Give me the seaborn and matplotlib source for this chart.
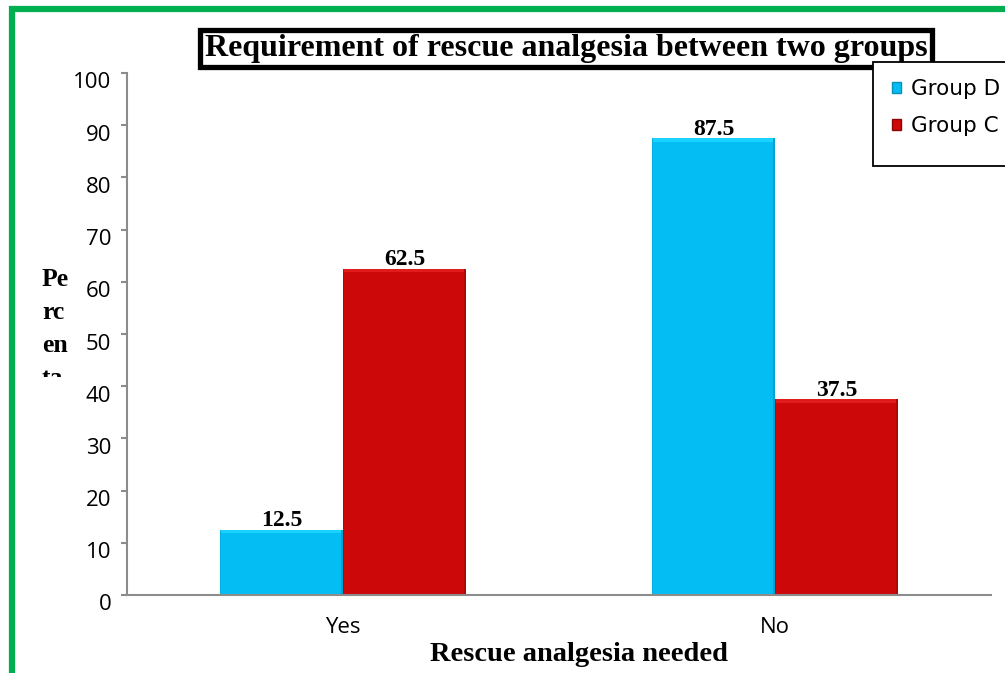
import matplotlib
matplotlib.use("Agg")
import matplotlib.pyplot as plt
import matplotlib.patches as mpatches
from matplotlib.transforms import ScaledTranslation, Bbox
import seaborn as sns
import pandas as pd

# Data
categories = ["Yes", "No"]
groups = ["Group D", "Group C"]
group_d = [12.5, 87.5]
group_c = [62.5, 37.5]
y_ticks = list(range(0, 101, 10))

df = pd.DataFrame({
    "need": categories * 2,
    "group": [groups[0]] * 2 + [groups[1]] * 2,
    "pct": group_d + group_c,
})

BLUE = "#04BEF3"
RED = "#CC0808"
SERIF = "Liberation Serif"
SANS = "Open Sans"

sns.set_theme(style="white")
plt.rcParams["font.family"] = [SANS, "DejaVu Sans"]
plt.rcParams["text.color"] = "black"

fig = plt.figure(figsize=(10.05, 6.73), dpi=100)
W, H = 1005, 673
ax = fig.add_axes([127 / W, 1 - 595 / H, (991 - 127) / W, (595 - 73) / H])

sns.barplot(data=df, x="need", y="pct", hue="group", order=categories,
            hue_order=groups, palette=[BLUE, RED], width=0.57,
            saturation=1, ax=ax, legend=False, edgecolor="none", linewidth=0)

# bevel: softer top band and darker side shading for each bar
for p in list(ax.patches):
    x0, w, h = p.get_x(), p.get_width(), p.get_height()
    base = p.get_facecolor()
    light = tuple(min(1, c + 0.08) for c in base[:3])
    dark = tuple(c * 0.85 for c in base[:3])
    z = p.get_zorder() + 0.1
    ax.add_patch(mpatches.Rectangle((x0, h - 0.7), w, 0.7, facecolor=light,
                                    edgecolor="none", zorder=z))
    ax.add_patch(mpatches.Rectangle((x0 + w * 0.985, 0), w * 0.015, h, facecolor=dark,
                                    edgecolor="none", zorder=z))
    ax.add_patch(mpatches.Rectangle((x0, 0), w * 0.01, h, facecolor=dark,
                                    edgecolor="none", zorder=z, alpha=0.6))

for cont in ax.containers:
    ax.bar_label(cont, fmt="%.1f", padding=-1, fontsize=17,
                 fontfamily=SERIF, fontweight="bold", color="black")

ax.set_xlim(-0.5, 1.5)
ax.set_ylim(0, 100)
ax.set_yticks(y_ticks)
ax.set_xlabel("")
ax.set_ylabel("")

for side in ["top", "right"]:
    ax.spines[side].set_visible(False)
for side in ["left", "bottom"]:
    ax.spines[side].set_color("#8C8C8C")
    ax.spines[side].set_linewidth(1.5)

ax.tick_params(axis="y", which="major", left=True, length=4.3, width=1.5,
               color="#8C8C8C", pad=7, labelsize=16, labelcolor="black")
ax.tick_params(axis="x", bottom=False, pad=10, labelsize=16, labelcolor="black")

shift = ScaledTranslation(0, -0.075, fig.dpi_scale_trans)
for lab in ax.get_yticklabels():
    lab.set_transform(lab.get_transform() + shift)

# title with heavy black frame
fig.text(566 / W, 1 - 56 / H, "Requirement of rescue analgesia between two groups",
         ha="center", va="baseline", fontsize=23, fontfamily=SERIF, fontweight="bold",
         color="black",
         bbox=dict(boxstyle="square,pad=0.14", facecolor="white", edgecolor="black",
                   linewidth=3.8))

# x axis title
fig.text(579 / W, 1 - 661 / H, "Rescue analgesia needed", ha="center", va="baseline",
         fontsize=20.5, fontfamily=SERIF, fontweight="bold", color="black")

# y axis title, wrapped and clipped
ylab = fig.text(42 / W, 1 - 268 / H, "Pe\nrc\nen\nta", ha="left", va="top",
                fontsize=18.5, fontfamily=SERIF, fontweight="bold", color="black",
                linespacing=1.56)
ylab.set_clip_box(Bbox.from_extents(0, H - 377, W, H))
ylab.set_clip_on(True)

# legend
handles = [mpatches.Patch(facecolor=BLUE, edgecolor="#0790B8"),
           mpatches.Patch(facecolor=RED, edgecolor="#8A0505")]
fig.add_artist(mpatches.Rectangle((873 / W, 1 - 166 / H), 200 / W, 104 / H,
                                  transform=fig.transFigure, facecolor="white",
                                  edgecolor="black", linewidth=1.3, zorder=5))
leg = fig.legend(handles, groups, loc="upper left",
                 bbox_to_anchor=(892 / W, 1 - 79 / H), frameon=False,
                 prop={"family": "DejaVu Sans", "size": 15.5},
                 handlelength=0.42, handleheight=0.42,
                 handletextpad=0.45, labelspacing=0.8, borderpad=0,
                 borderaxespad=0)
leg.set_zorder(6)

# green outer frame
fig.add_artist(mpatches.Rectangle((11.5 / W, -0.1), 1.1, 1 - 9.5 / H + 0.1,
                                  transform=fig.transFigure, fill=False,
                                  edgecolor="#00B050", linewidth=4.5, zorder=10))

fig.savefig("out.png", dpi=100)
